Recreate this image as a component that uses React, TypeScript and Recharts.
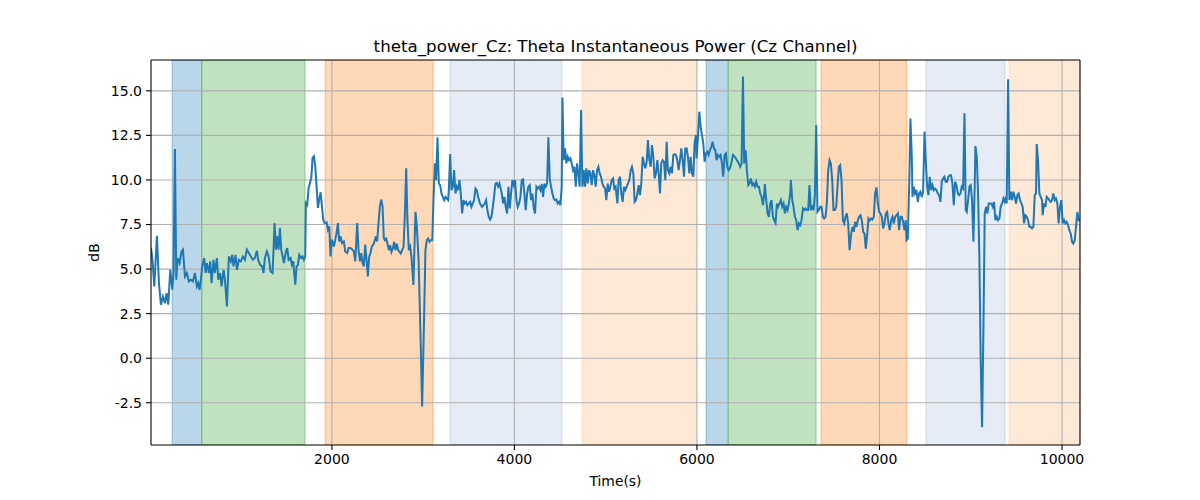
import React from 'react';
import { LineChart, Line, XAxis, YAxis, ReferenceArea, ReferenceLine } from 'recharts';

const timeSec = [
  18, 33, 54, 83, 105, 127, 149, 171, 189, 207, 229, 251, 265, 280, 295, 309, 331, 353, 368, 390,
  411, 433, 455, 477, 499, 521, 536, 550, 565, 579, 601, 616, 630, 652, 667, 682, 703, 718, 740, 755,
  776, 791, 813, 828, 850, 871, 893, 908, 922, 944, 959, 981, 1003, 1025, 1047, 1068, 1090, 1112, 1134, 1156,
  1178, 1192, 1214, 1236, 1251, 1266, 1288,
  1307, 1328, 1350, 1372, 1387, 1401, 1416, 1431, 1445, 1460, 1474, 1496, 1511, 1526, 1547, 1562, 1577, 1584, 1599, 1613,
  1628, 1642, 1664, 1679, 1693, 1708, 1715, 1730, 1745, 1759, 1774, 1788, 1803, 1818, 1832, 1847, 1861, 1876, 1891, 1905,
  1920, 1942, 1956, 1971, 1985, 2000, 2022, 2037, 2051, 2066, 2080, 2095, 2110, 2131, 2146, 2168, 2183, 2204, 2226, 2241,
  2256, 2277, 2292, 2307, 2321, 2336, 2350, 2365, 2380, 2394, 2409, 2423, 2438, 2453, 2467, 2482, 2496, 2511, 2526, 2540,
  2555, 2569,
  2580, 2595, 2609, 2624, 2639, 2653, 2668, 2682, 2697, 2712, 2726, 2741, 2755, 2770, 2785, 2799, 2814, 2828, 2843, 2858,
  2872, 2893, 2916, 2931, 2950, 2970, 2989, 3005, 3025, 3040, 3055, 3070, 3085, 3100, 3113, 3128, 3142, 3157, 3172, 3186,
  3201, 3215, 3230, 3245, 3259, 3274, 3281, 3296, 3310, 3325, 3339, 3354, 3369, 3383, 3398, 3412, 3427, 3442, 3456, 3471,
  3485, 3500, 3515, 3529, 3544, 3558, 3573, 3588, 3602, 3617, 3631, 3646, 3661, 3675, 3690, 3704, 3719, 3734, 3748, 3763,
  3777, 3792, 3807, 3821, 3836, 3850,
  3861, 3876, 3890, 3905, 3920, 3934, 3949, 3963, 3978, 3993, 4007, 4022, 4036, 4051, 4066, 4080, 4095, 4109, 4124, 4139,
  4153, 4168, 4182, 4197, 4212, 4226, 4241, 4255, 4270, 4285, 4299, 4314, 4328, 4343, 4358, 4372, 4387, 4401, 4416, 4431,
  4445, 4460, 4474, 4489, 4504, 4518, 4526, 4540, 4555, 4569, 4584, 4599, 4613, 4628, 4642, 4657, 4672, 4686, 4701, 4715,
  4730, 4745, 4759, 4774, 4788, 4803, 4818, 4832, 4847, 4861, 4876, 4891, 4905, 4920, 4934, 4949, 4964, 4978, 4993, 5007,
  5022, 5036, 5051, 5066, 5080, 5095, 5109,
  5128, 5142, 5157, 5171, 5186, 5201, 5215, 5230, 5244, 5259, 5274, 5288, 5303, 5317, 5332, 5347, 5361, 5376, 5390, 5405,
  5420, 5434, 5449, 5463, 5478, 5493, 5507, 5522, 5536, 5551, 5566, 5580, 5595, 5609, 5624, 5639, 5653, 5668, 5682, 5697,
  5712, 5726, 5741, 5755, 5770, 5785, 5799, 5814, 5828, 5843, 5858, 5872, 5887, 5901, 5916, 5931, 5945, 5960, 5974, 5989,
  5996, 6011, 6026, 6040, 6055, 6069, 6084, 6099, 6113, 6128, 6142, 6157, 6172, 6186, 6201, 6215, 6230, 6245, 6259, 6274,
  6288, 6303, 6318, 6332, 6347, 6361, 6376,
  6394, 6416, 6438, 6460, 6474, 6489, 6504, 6518, 6533, 6547, 6562, 6576, 6591, 6606, 6620, 6635, 6649, 6664, 6679, 6693,
  6708, 6723, 6737, 6744, 6759, 6774, 6788, 6803, 6817, 6832, 6847, 6861, 6876, 6890, 6905, 6920, 6934, 6949, 6963, 6978,
  6993, 7007, 7022, 7029, 7044, 7058, 7073, 7088, 7102, 7117, 7131, 7146, 7161, 7175, 7190, 7204, 7219, 7233, 7248, 7263,
  7277, 7292, 7307, 7321, 7336, 7350, 7365, 7380, 7394, 7409, 7423, 7438, 7453, 7467, 7482, 7496, 7511, 7526, 7540, 7555,
  7569, 7584, 7599, 7613, 7628, 7642, 7657, 7672,
  7690, 7704, 7719, 7733, 7748, 7763, 7777, 7792, 7806, 7821, 7836, 7850, 7865, 7879, 7894, 7909, 7923, 7938, 7952, 7967,
  7982, 7996, 8011, 8025, 8040, 8055, 8069, 8084, 8098, 8113, 8128, 8142, 8157, 8171, 8186, 8201, 8215, 8230, 8244, 8259,
  8274, 8288, 8296, 8310, 8325, 8339, 8354, 8361, 8376, 8390, 8405, 8420, 8434, 8449, 8463, 8478, 8493, 8507, 8522, 8536,
  8551, 8566, 8580, 8595, 8609, 8624, 8639, 8653, 8668, 8682, 8697, 8711, 8726, 8741, 8755, 8770, 8784, 8799, 8814, 8828,
  8843, 8858, 8872, 8887, 8901, 8916, 8931, 8945,
  8956, 8971, 8985, 9000, 9014, 9029, 9044, 9051, 9066, 9080, 9095, 9109, 9124, 9139, 9153, 9168, 9182, 9197, 9212, 9226,
  9241, 9255, 9270, 9285, 9299, 9314, 9328, 9343, 9358, 9372, 9387, 9394, 9409, 9423, 9438, 9452, 9467, 9482, 9496, 9511,
  9525, 9540, 9555, 9569, 9584, 9598, 9613, 9628, 9642, 9657, 9671, 9686, 9701, 9715, 9723, 9737, 9752, 9766, 9781, 9788,
  9803, 9817, 9832, 9847, 9861, 9876, 9890, 9905, 9920, 9934, 9949, 9963, 9978, 9993, 10007, 10022, 10036, 10051, 10066, 10080,
  10095, 10110, 10124, 10139, 10153, 10168, 10182, 10197,
];

const thetaDb = [
  6.2, 5.6, 4.03, 6.87, 4.2, 3.0, 3.46, 3.09, 3.65, 3.0, 4.96, 3.84, 4.78, 11.74, 4.4, 5.62, 5.34, 5.99, 6.09, 4.59,
  4.78, 4.31, 4.4, 4.31, 4.78, 4.03, 4.21, 3.84, 4.4, 5.15, 5.62, 4.78, 5.34, 4.78, 5.43, 4.21, 5.52, 4.78, 5.62, 4.4,
  4.78, 4.03, 4.96, 4.4, 2.9, 5.71, 5.43, 5.8, 5.15, 5.8, 4.96, 5.52, 5.43, 5.71, 5.52, 6.09, 5.9, 5.71, 5.52, 5.62,
  6.03, 5.52, 5.24, 5.15, 4.78, 5.62, 5.99,
  5.71, 4.87, 4.78, 7.58, 6.09, 6.84, 6.09, 7.3, 6.09, 5.71, 5.34, 5.99, 6.18, 5.52, 5.62, 5.24, 5.43, 4.96, 4.12, 5.15,
  5.24, 5.8, 5.62, 5.71, 5.52, 5.71, 8.71, 8.61, 9.55, 9.83, 10.11, 11.24, 11.33, 10.77, 9.64, 8.43, 8.9, 9.31, 8.52, 7.77,
  7.58, 7.62, 7.21, 7.4, 5.71, 6.65, 6.27, 6.65, 7.02, 7.58, 6.55, 6.84, 6.46, 6.55, 5.99, 5.9, 6.18, 6.18, 6.09, 5.99,
  5.43, 7.58, 6.09, 5.43, 5.9, 5.34, 5.15, 6.37, 5.52, 4.59, 5.71, 5.9, 6.27, 6.37, 6.55, 6.84, 6.55, 7.58, 8.52, 8.9,
  8.52, 6.74,
  6.62, 6.71, 6.43, 6.06, 6.34, 5.96, 6.15, 6.53, 6.06, 6.43, 6.06, 5.96, 5.87, 6.06, 6.25, 7.93, 10.65, 7.74, 6.06, 6.25,
  5.68, 4.11, 8.21, 7.37, 5.5, 1.5, -2.71, 1.0, 6.07, 6.62, 6.71, 6.53, 6.62, 6.62, 8.87, 10.93, 9.99, 12.39, 9.8, 9.71,
  9.24, 9.05, 8.87, 9.05, 8.96, 8.87, 9.43, 11.45, 9.43, 9.62, 10.55, 9.24, 9.62, 9.43, 9.99, 9.24, 8.12, 8.87, 8.68, 8.77,
  8.59, 8.68, 8.77, 8.49, 8.68, 8.87, 9.52, 9.43, 9.05, 8.77, 8.59, 8.49, 8.59, 8.68, 8.87, 8.31, 7.93, 7.78, 7.93, 8.49,
  9.05, 9.8, 9.84, 9.62, 9.8, 9.5,
  9.24, 8.68, 9.05, 8.49, 8.12, 9.62, 8.4, 9.24, 9.99, 9.71, 9.99, 8.87, 8.49, 8.68, 9.05, 9.99, 10.03, 9.24, 8.31, 9.24,
  9.62, 9.71, 8.87, 9.24, 8.4, 8.12, 9.62, 9.52, 9.62, 9.43, 9.77, 9.05, 9.8, 9.62, 9.8, 12.39, 10.08, 9.62, 9.24, 8.96,
  8.87, 8.9, 8.68, 8.77, 8.59, 9.62, 14.63, 11.11, 11.77, 10.93, 11.3, 11.11, 11.21, 10.93, 10.55, 10.74, 9.62, 10.93, 10.37, 9.62,
  13.92, 9.62, 10.55, 9.62, 10.65, 9.8, 10.55, 10.37, 9.71, 10.55, 10.27, 9.62, 10.55, 10.74, 10.37, 10.18, 9.8, 9.62, 9.52, 8.87,
  9.8, 9.34, 9.62, 9.99, 10.08, 9.52, 9.62,
  8.68, 9.99, 10.18, 9.24, 8.77, 9.62, 9.43, 9.62, 9.8, 9.99, 10.55, 10.74, 10.37, 8.77, 8.87, 9.24, 9.71, 9.15, 9.8, 11.3,
  10.93, 10.65, 11.02, 12.24, 11.11, 10.74, 11.96, 11.3, 10.08, 10.37, 11.11, 10.37, 9.24, 10.93, 11.11, 11.02, 9.99, 12.14, 10.55, 10.37,
  10.74, 10.37, 11.4, 11.45, 11.4, 11.11, 10.55, 11.11, 11.77, 11.11, 10.18, 11.77, 11.77, 11.3, 10.37, 11.3, 10.37, 10.18, 12.05, 12.52,
  11.21, 12.42, 13.83, 12.99, 12.52, 12.05, 11.02, 11.49, 11.58, 11.4, 11.68, 11.86, 12.14, 11.77, 11.68, 11.11, 11.4, 11.3, 11.4, 10.93,
  10.18, 11.4, 11.49, 10.74, 10.55, 10.65, 10.93,
  11.4, 11.3, 11.11, 10.93, 10.74, 10.93, 15.8, 10.93, 11.68, 10.55, 9.71, 9.8, 10.08, 9.71, 9.8, 9.62, 9.9, 9.62, 9.62, 9.24,
  9.05, 8.59, 9.24, 9.77, 8.87, 8.12, 7.93, 8.68, 8.87, 7.93, 7.74, 7.59, 8.68, 8.49, 8.68, 8.87, 8.49, 8.68, 8.12, 8.49,
  8.31, 8.68, 9.24, 9.99, 8.87, 8.49, 7.93, 7.74, 7.18, 7.56, 7.46, 7.74, 8.4, 8.31, 8.4, 8.31, 8.31, 9.71, 8.31, 8.49,
  8.31, 9.15, 13.08, 8.21, 8.31, 8.49, 8.49, 7.93, 7.84, 7.93, 8.68, 10.55, 11.11, 10.93, 9.99, 8.31, 8.31, 8.49, 9.62, 10.74,
  10.83, 9.99, 7.74, 7.56, 7.93, 8.12, 7.56, 6.06,
  6.99, 7.37, 7.09, 7.65, 7.37, 7.74, 7.93, 8.02, 7.74, 7.09, 6.99, 6.15, 6.9, 7.84, 7.74, 7.84, 7.78, 7.93, 9.24, 9.58,
  8.68, 8.21, 8.12, 7.93, 7.28, 7.56, 8.12, 8.21, 7.56, 7.18, 7.74, 7.93, 7.56, 7.93, 8.02, 8.12, 7.18, 7.93, 7.93, 7.65,
  7.18, 7.74, 6.62, 6.71, 9.62, 13.45, 11.3, 9.05, 9.62, 9.24, 9.43, 8.77, 9.24, 9.34, 9.05, 9.34, 12.71, 11.11, 9.62, 9.15,
  10.18, 9.43, 9.71, 9.43, 9.52, 9.43, 9.24, 9.15, 8.77, 9.9, 10.08, 10.18, 9.9, 9.9, 10.18, 10.27, 10.27, 9.8, 8.59, 9.9,
  9.71, 9.24, 9.15, 9.24, 9.62, 9.52, 13.74, 8.31,
  8.21, 8.87, 9.62, 9.71, 8.87, 6.53, 9.8, 11.9, 11.3, 9.24, 5.5, -0.12, -3.87, 1.75, 8.12, 8.49, 8.12, 8.68, 8.68, 8.68,
  8.49, 8.77, 7.74, 7.93, 7.74, 7.84, 8.49, 8.68, 8.96, 8.77, 9.05, 8.68, 15.65, 8.87, 9.34, 8.87, 9.34, 9.05, 8.68, 9.15,
  9.24, 8.87, 8.68, 8.49, 7.56, 8.02, 7.93, 7.74, 7.37, 7.37, 7.28, 7.37, 9.15, 9.24, 12.01, 11.11, 9.24, 9.05, 8.87, 8.02,
  8.68, 8.49, 9.05, 8.96, 8.87, 8.77, 8.87, 9.24, 8.87, 8.96, 8.68, 7.56, 8.49, 8.87, 7.56, 7.74, 7.56, 7.65, 7.46, 7.18,
  6.99, 6.53, 6.43, 6.62, 7.37, 8.21, 7.74, 7.74,
];

const bandStarts = [251, 576, 1927, 3296, 4742, 6101, 6344, 7360, 8510, 9419];
const bandEnds = [576, 1705, 3107, 4520, 5994, 6344, 7305, 8298, 9375, 10197];
const bandKinds = ['blue', 'green', 'orange', 'lightblue', 'lightorange', 'blue', 'green', 'orange', 'lightblue', 'lightorange'];

const xTicks = [2000, 4000, 6000, 8000, 10000];
const yTicks = [-2.5, 0, 2.5, 5, 7.5, 10, 12.5, 15];
const xDomain = [18, 10197];
const yDomain = [-4.87, 16.73];

const bandStyle: Record<string, { fill: string; edge: string }> = {
  blue: { fill: '#bad6e9', edge: '#1f77b4' },
  green: { fill: '#c0e2c0', edge: '#2ca02c' },
  orange: { fill: '#ffd8b7', edge: '#ff7f0e' },
  lightblue: { fill: '#e5ecf6', edge: '#9fb6dc' },
  lightorange: { fill: '#fee9d6', edge: '#fdc79a' },
};

const FONT = 'DejaVu Sans, sans-serif';

export default function App() {
  const data = timeSec.map((t, i) => ({ t, v: thetaDb[i] }));
  return (
    <div style={{ position: 'absolute', left: 0, top: 0, width: 1200, height: 500, background: '#fff' }}>
      <LineChart width={1200} height={500} data={data} margin={{ top: 60, right: 120, bottom: 0, left: 0 }}>
        <XAxis
          dataKey="t"
          type="number"
          domain={xDomain}
          ticks={xTicks}
          allowDataOverflow
          height={55}
          tickSize={5}
          tickMargin={4}
          stroke="#000"
          tickLine={{ stroke: '#000', strokeWidth: 1.1 }}
          axisLine={{ stroke: '#000', strokeWidth: 1.1 }}
          tick={{ fill: '#000', fontSize: 14, fontFamily: FONT }}
        />
        <YAxis
          type="number"
          domain={yDomain}
          ticks={yTicks}
          allowDataOverflow
          width={151}
          tickSize={5}
          tickMargin={4}
          stroke="#000"
          tickLine={{ stroke: '#000', strokeWidth: 1.1 }}
          axisLine={{ stroke: '#000', strokeWidth: 1.1 }}
          tick={{ fill: '#000', fontSize: 14, fontFamily: FONT }}
          tickFormatter={(v: number) => v.toFixed(1)}
        />
        {bandStarts.map((s, i) => (
          <ReferenceArea
            key={'b' + i}
            x1={s}
            x2={bandEnds[i]}
            y1={yDomain[0]}
            y2={yDomain[1]}
            fill={bandStyle[bandKinds[i]].fill}
            fillOpacity={1}
            stroke={bandStyle[bandKinds[i]].edge}
            strokeOpacity={0.35}
            strokeWidth={1.3}
            ifOverflow="hidden"
          />
        ))}
        {xTicks.map((x) => (
          <ReferenceLine key={'gx' + x} x={x} stroke="#b0b0b0" strokeWidth={1.1} />
        ))}
        {yTicks.map((y) => (
          <ReferenceLine key={'gy' + y} y={y} stroke="#b0b0b0" strokeWidth={1.1} />
        ))}
        <Line type="linear" dataKey="v" stroke="#1f77b4" strokeWidth={2} dot={false} activeDot={false} isAnimationActive={false} />
        <ReferenceLine y={yDomain[1]} stroke="#000" strokeWidth={1.1} />
        <ReferenceLine x={xDomain[1]} stroke="#000" strokeWidth={1.1} />
      </LineChart>
      <svg width={1200} height={500} style={{ position: 'absolute', left: 0, top: 0, pointerEvents: 'none' }}>
        <text x={615.5} y={52} textAnchor="middle" fontSize={16.7} fontFamily={FONT} fill="#000">
          theta_power_Cz: Theta Instantaneous Power (Cz Channel)
        </text>
        <text x={615.5} y={486} textAnchor="middle" fontSize={13.9} fontFamily={FONT} fill="#000">
          Time(s)
        </text>
        <text transform="translate(99,252.5) rotate(-90)" textAnchor="middle" fontSize={13.9} fontFamily={FONT} fill="#000">
          dB
        </text>
      </svg>
    </div>
  );
}
